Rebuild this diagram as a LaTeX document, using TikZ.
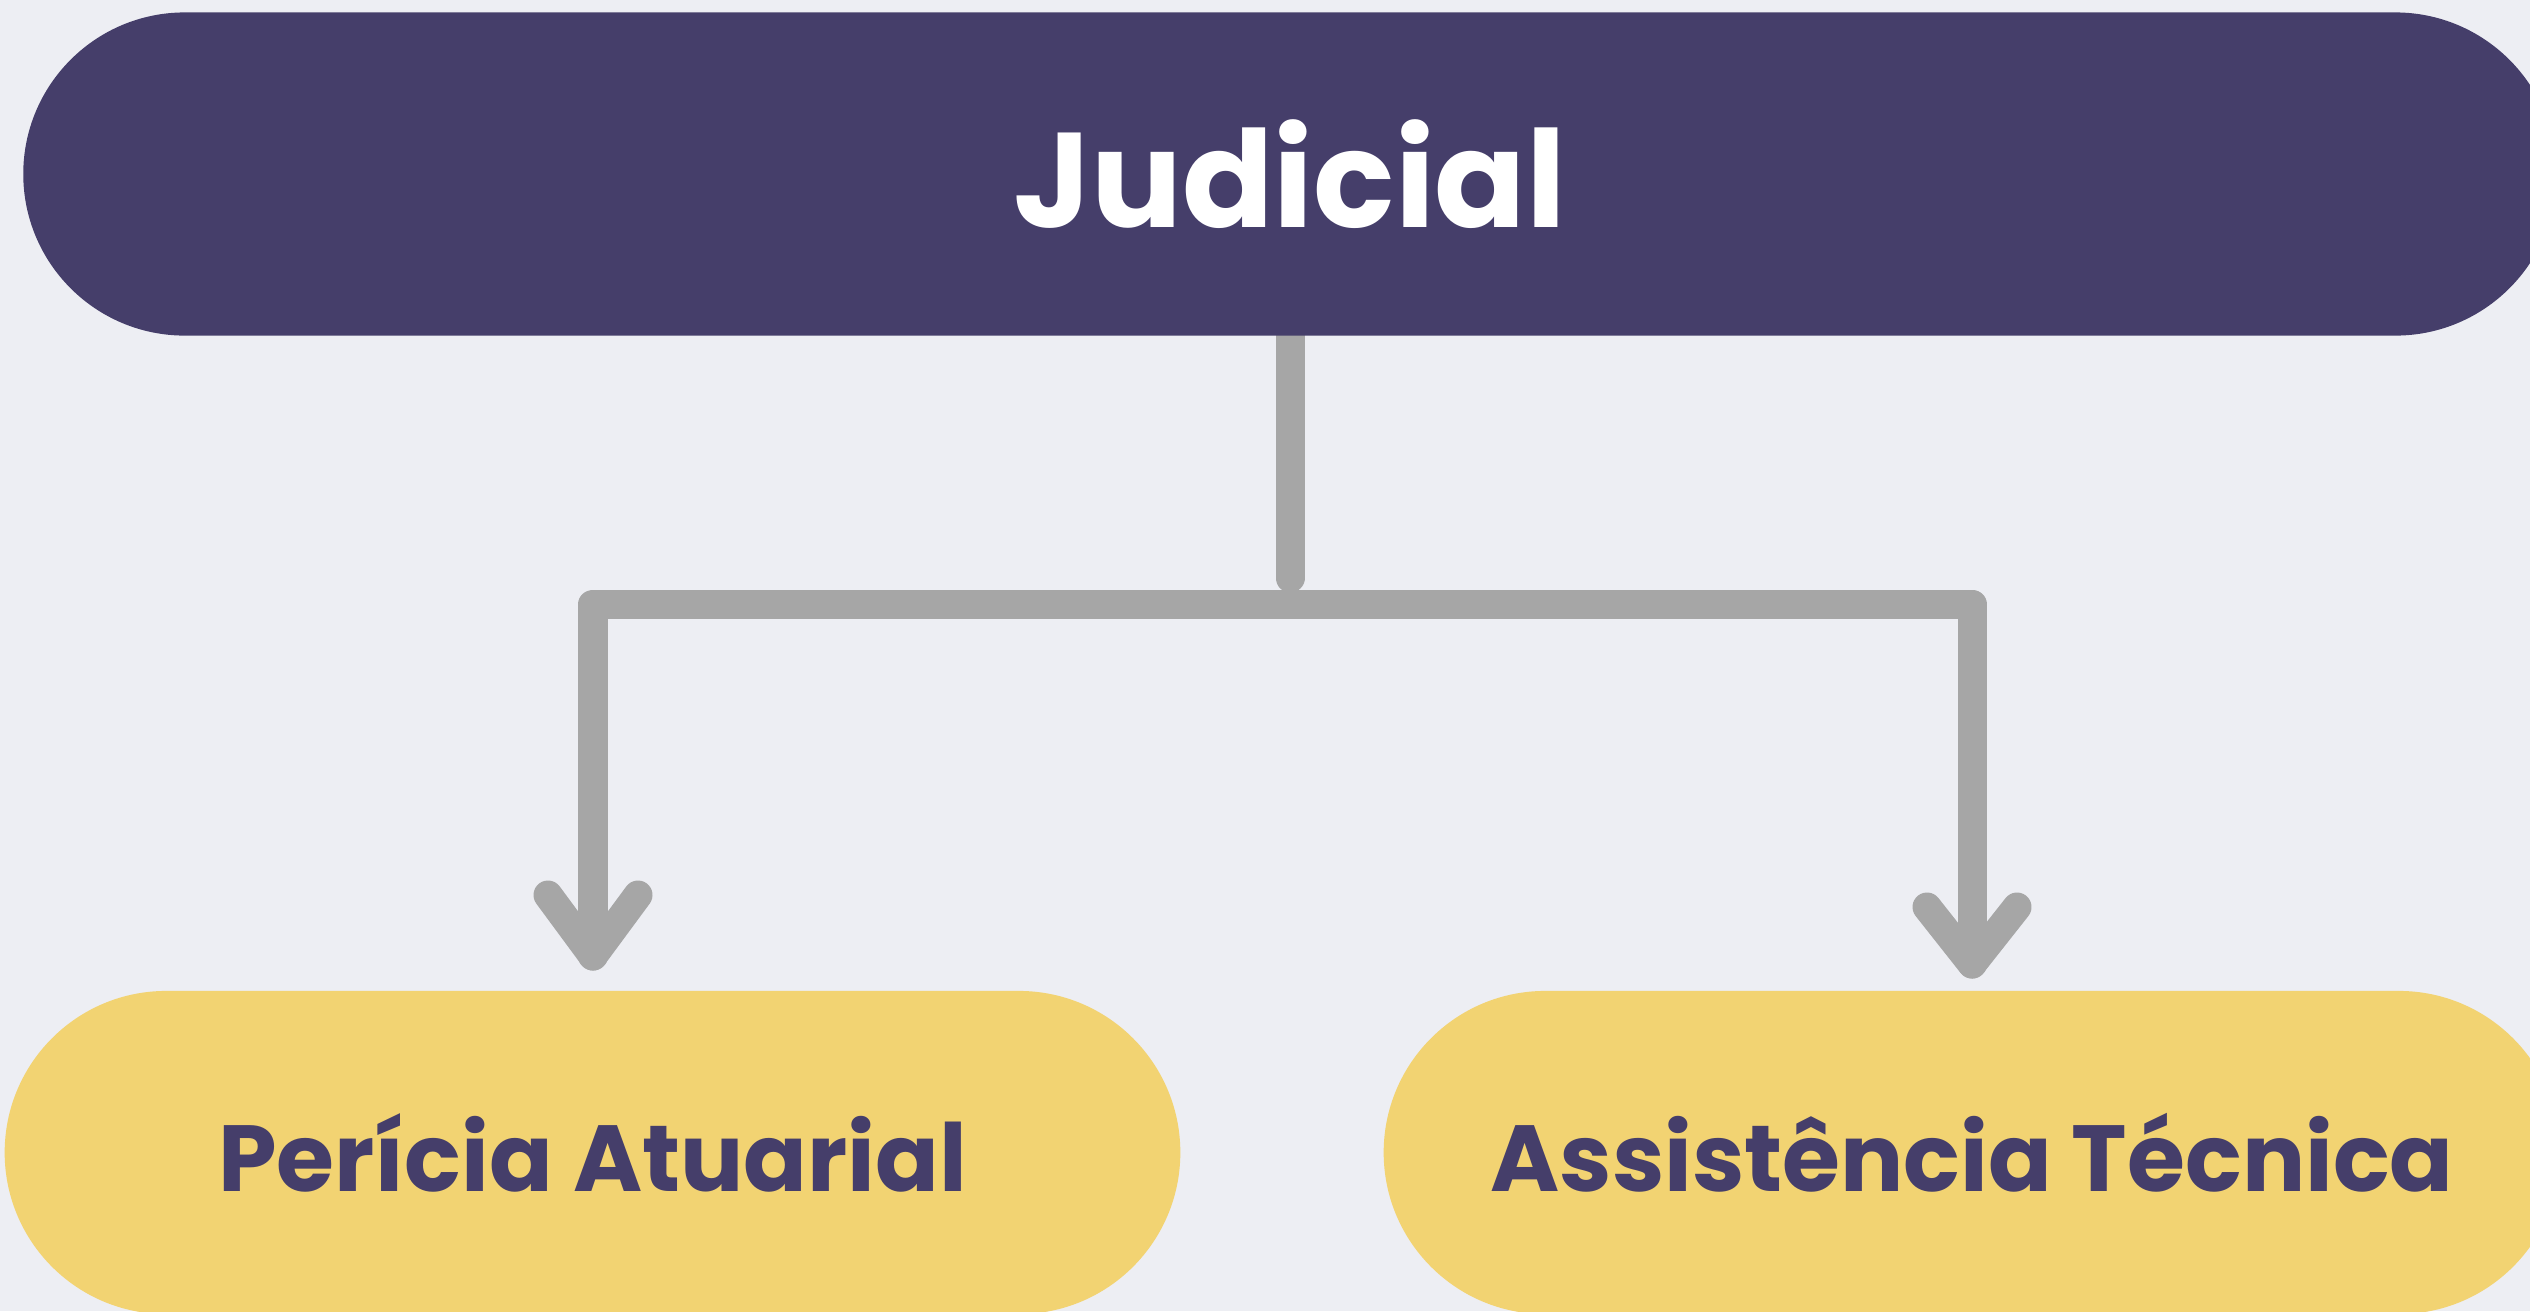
\documentclass[tikz,border=0pt]{standalone}
\usepackage{fontspec}
\setmainfont{Poppins}
\usetikzlibrary{shapes.misc,calc}
\definecolor{bg}{HTML}{EDEEF3}
\definecolor{navy}{HTML}{453E6A}
\definecolor{sand}{HTML}{F2D372}
\definecolor{linegray}{HTML}{A6A6A6}
\pgfdeclarelayer{backlayer}
\pgfdeclarelayer{connlayer}
\pgfsetlayers{backlayer,connlayer,main}
\begin{document}
\begin{tikzpicture}[x=0.01cm,y=-0.01cm,
  box/.style={rounded rectangle, inner sep=0pt, minimum height=3.23cm},
  topbox/.style={box, fill=navy, text=white, font=\bfseries\fontsize{38.3}{40}\selectfont},
  leafbox/.style={box, fill=sand, text=navy, font=\bfseries\fontsize{26.7}{28}\selectfont},
  conn/.style={draw=linegray, line width=0.29cm, line cap=round, line join=round}]
\useasboundingbox (0,0) rectangle (2530,1311);
\clip (0,0) rectangle (2530,1311);
\begin{pgfonlayer}{backlayer}
\fill[bg] (0,0) rectangle (2530,1311);
\end{pgfonlayer}
\node[topbox, minimum width=25.32cm] (judicial) at (1290,174) {Judicial};
\node[leafbox, minimum width=11.75cm] (pericia) at (592.5,1152.5) {Perícia Atuarial};
\node[leafbox, minimum width=11.76cm] (assist) at (1972,1152.5) {Assistência Técnica};
\coordinate (split) at (1290,578);
\coordinate (hub) at (1290,604);
\coordinate (ltip) at (593,956);
\coordinate (rtip) at (1972,964);
\begin{pgfonlayer}{connlayer}
\draw[conn] (judicial.south) -- (split);
\draw[conn] (hub) -| (ltip);
\draw[conn] (hub) -| (rtip);
\draw[conn] ($(ltip)+(-45,-61)$) -- (ltip) -- ($(ltip)+(45,-61)$);
\draw[conn] ($(rtip)+(-45,-57)$) -- (rtip) -- ($(rtip)+(45,-57)$);
\end{pgfonlayer}
\end{tikzpicture}
\end{document}
